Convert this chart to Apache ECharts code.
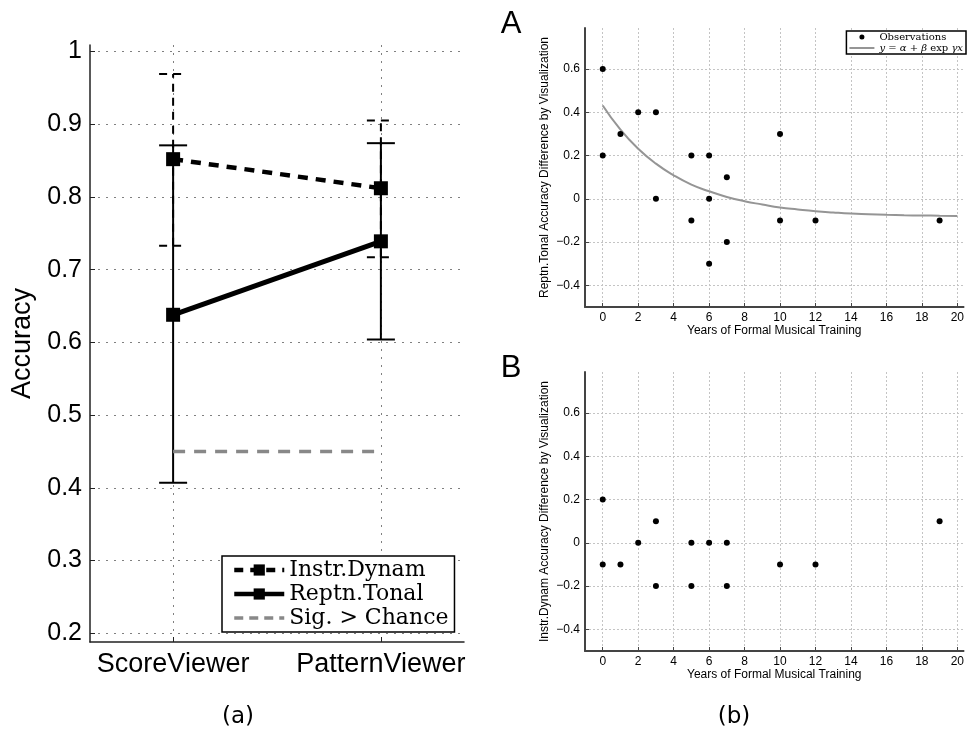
<!DOCTYPE html>
<html>
<head>
<meta charset="utf-8">
<script src="https://cdn.jsdelivr.net/npm/echarts@6/dist/echarts.min.js"></script>
<style>
html, body { margin: 0; padding: 0; background: #fff; }
#chart { width: 967px; height: 731px; }
</style>
</head>
<body>
<div id="chart"></div>
<script>
// (a) accuracy per viewer
const viewers = ['ScoreViewer', 'PatternViewer'];
const viewerX = [1, 2];
const accTicks = [0.2, 0.3, 0.4, 0.5, 0.6, 0.7, 0.8, 0.9, 1.0];
const instrMean = [0.852, 0.812];
const instrLow = [0.733, 0.717];
const instrHigh = [0.969, 0.905];
const reptnMean = [0.638, 0.739];
const reptnLow = [0.407, 0.604];
const reptnHigh = [0.871, 0.874];
const chanceLevel = [0.45, 0.45];

// (b) accuracy difference vs years of training
const yearTicks = [0, 2, 4, 6, 8, 10, 12, 14, 16, 18, 20];
const diffTicks = [-0.4, -0.2, 0, 0.2, 0.4, 0.6];
const reptnYears = [0, 0, 1, 2, 3, 3, 5, 5, 6, 6, 6, 7, 7, 10, 10, 12, 19];
const reptnDiff = [0.6, 0.2, 0.3, 0.4, 0.4, 0, 0.2, -0.1, 0.2, 0, -0.3, 0.1, -0.2, 0.3, -0.1, -0.1, -0.1];
const fitYears = [0, 1, 2, 3, 4, 5, 6, 7, 8, 9, 10, 11, 12, 13, 14, 15, 16, 17, 18, 19, 20];
const fitDiff = [0.432, 0.32, 0.232, 0.163, 0.109, 0.066, 0.035, 0.009, -0.011, -0.026, -0.04,
  -0.049, -0.057, -0.063, -0.068, -0.071, -0.074, -0.076, -0.077, -0.078, -0.079];
const instrYears = [0, 0, 1, 2, 3, 3, 5, 5, 6, 7, 7, 10, 12, 19];
const instrDiff = [0.2, -0.1, -0.1, 0, 0.1, -0.2, 0, -0.2, 0, 0, -0.2, -0.1, -0.1, 0.1];

const SANS = 'Liberation Sans';
const SERIF = 'DejaVu Serif';

const pairs = (xs, ys) => xs.map((x, i) => [x, ys[i]]);

function errorBars(low, high, dash) {
  return {
    type: 'custom',
    xAxisIndex: 0,
    yAxisIndex: 0,
    z: 2,
    silent: true,
    data: viewerX.map((x, i) => [x, low[i], high[i]]),
    renderItem: (params, api) => {
      const lo = api.coord([api.value(0), api.value(1)]);
      const hi = api.coord([api.value(0), api.value(2)]);
      const w = 14;
      const style = { stroke: '#000', lineWidth: 2, lineDash: dash };
      return {
        type: 'group',
        children: [
          { type: 'line', shape: { x1: lo[0], y1: lo[1], x2: hi[0], y2: hi[1] }, style },
          { type: 'line', shape: { x1: lo[0] - w, y1: lo[1], x2: lo[0] + w, y2: lo[1] }, style },
          { type: 'line', shape: { x1: hi[0] - w, y1: hi[1], x2: hi[0] + w, y2: hi[1] }, style }
        ]
      };
    }
  };
}

const diffLabel = v => {
  if (Math.abs(v) < 1e-9) return '0';
  return (v < 0 ? '\u2212' : '') + Math.abs(v).toFixed(1);
};

function rightAxes(gridIndex, yName) {
  const line = { show: true, onZero: false, lineStyle: { color: '#444', width: 2 } };
  const tick = { show: true, inside: true, length: 4, lineStyle: { color: '#444' } };
  const grid = { show: true, lineStyle: { color: '#c4c4c4', type: [2, 2], width: 1 } };
  return {
    x: {
      type: 'value', gridIndex, min: -1, max: 20.35,
      name: 'Years of Formal Musical Training', nameLocation: 'middle', nameGap: 17,
      nameTextStyle: { fontFamily: SANS, fontSize: 12, color: '#000' },
      axisLine: line,
      axisTick: { ...tick, customValues: yearTicks },
      axisLabel: { customValues: yearTicks, fontFamily: SANS, fontSize: 12, color: '#000', margin: 5 },
      splitLine: grid
    },
    y: {
      type: 'value', gridIndex, min: -0.5, max: 0.79,
      name: yName, nameLocation: 'middle', nameGap: 34,
      nameTextStyle: { fontFamily: SANS, fontSize: 12, color: '#000' },
      axisLine: line,
      axisTick: { ...tick, customValues: diffTicks },
      axisLabel: { customValues: diffTicks, formatter: diffLabel, fontFamily: SANS, fontSize: 12, color: '#000', margin: 5 },
      splitLine: grid
    }
  };
}

const axA = rightAxes(1, 'Reptn.Tonal Accuracy Difference by Visualization');
const axB = rightAxes(2, 'Instr.Dynam Accuracy Difference by Visualization');

const leftGrid = { show: true, lineStyle: { color: '#808080', type: [2, 6], width: 1 } };

const option = {
  animation: false,
  backgroundColor: '#fff',
  grid: [
    { left: 90, top: 45, width: 374, height: 597 },
    { left: 585, top: 28, width: 381, height: 279 },
    { left: 585, top: 372, width: 381, height: 279 }
  ],
  xAxis: [
    {
      type: 'value', gridIndex: 0, min: 0.6, max: 2.4,
      axisLine: { show: true, onZero: false, lineStyle: { color: '#222', width: 1.5 } },
      axisTick: { show: true, inside: true, length: 5, customValues: viewerX, lineStyle: { color: '#222' } },
      axisLabel: {
        customValues: viewerX,
        formatter: v => viewers[viewerX.indexOf(Math.round(v))] || '',
        fontFamily: SANS, fontSize: 27, color: '#000', margin: 9
      },
      splitLine: leftGrid
    },
    axA.x, axB.x
  ],
  yAxis: [
    {
      type: 'value', gridIndex: 0, min: 0.188, max: 1.009,
      name: 'Accuracy', nameLocation: 'middle', nameGap: 54,
      nameTextStyle: { fontFamily: SANS, fontSize: 27, color: '#000' },
      axisLine: { show: true, onZero: false, lineStyle: { color: '#222', width: 1.5 } },
      axisTick: { show: true, inside: true, length: 5, customValues: accTicks, lineStyle: { color: '#222' } },
      axisLabel: {
        customValues: accTicks,
        formatter: v => String(+v.toFixed(1)),
        fontFamily: SANS, fontSize: 25, color: '#000', margin: 8
      },
      splitLine: leftGrid
    },
    axA.y, axB.y
  ],
  legend: [
    {
      left: 222, top: 556, orient: 'vertical',
      data: [
        { name: 'Instr.Dynam', lineStyle: { width: 4.5, type: [9, 7] } },
        { name: 'Reptn.Tonal', lineStyle: { width: 4.5 } },
        { name: 'Sig. > Chance', itemStyle: { opacity: 0 }, lineStyle: { width: 3.5, type: [9, 6] } }
      ],
      backgroundColor: '#fff', borderColor: '#000', borderWidth: 1.5, borderRadius: 0,
      padding: [2, 6, 2, 10], itemWidth: 50, itemHeight: 14, itemGap: 0,
      textStyle: { fontFamily: SERIF, fontSize: 22, color: '#000', lineHeight: 24 },
      selectedMode: false
    },
    {
      right: 1, top: 31, orient: 'vertical',
      data: ['Observations', { name: 'fit', itemStyle: { opacity: 0 } }],
      backgroundColor: '#fff', borderColor: '#000', borderWidth: 1.5, borderRadius: 0,
      padding: [1, 3, 1, 2], itemWidth: 25, itemHeight: 5, itemGap: 1,
      formatter: name => name === 'fit' ? '{i|y} = {i|\u03b1} + {i|\u03b2} exp {i|\u03b3x}' : name,
      textStyle: {
        fontFamily: SERIF, fontSize: 10, color: '#000', lineHeight: 10,
        rich: { i: { fontFamily: SERIF, fontStyle: 'italic', fontSize: 10, color: '#000' } }
      },
      selectedMode: false
    }
  ],
  graphic: [
    { type: 'text', style: { x: 511, y: 24, text: 'A', align: 'center', verticalAlign: 'middle', fontFamily: SANS, fontSize: 31, fill: '#000' } },
    { type: 'text', style: { x: 511, y: 368, text: 'B', align: 'center', verticalAlign: 'middle', fontFamily: SANS, fontSize: 31, fill: '#000' } },
    { type: 'text', style: { x: 238, y: 717, text: '(a)', align: 'center', verticalAlign: 'middle', fontFamily: 'DejaVu Sans', fontSize: 23, fill: '#000' } },
    { type: 'text', style: { x: 734, y: 717, text: '(b)', align: 'center', verticalAlign: 'middle', fontFamily: 'DejaVu Sans', fontSize: 23, fill: '#000' } }
  ],
  series: [
    errorBars(instrLow, instrHigh, [8, 6]),
    errorBars(reptnLow, reptnHigh, null),
    {
      name: 'Sig. > Chance', type: 'line', xAxisIndex: 0, yAxisIndex: 0, z: 3,
      data: pairs(viewerX, chanceLevel), symbol: 'none',
      lineStyle: { color: '#888', width: 3.5, type: [12, 9] }, itemStyle: { color: '#888' }
    },
    {
      name: 'Instr.Dynam', type: 'line', xAxisIndex: 0, yAxisIndex: 0, z: 4,
      data: pairs(viewerX, instrMean), symbol: 'rect', symbolSize: 14,
      lineStyle: { color: '#000', width: 4.5, type: [10, 8] }, itemStyle: { color: '#000' }
    },
    {
      name: 'Reptn.Tonal', type: 'line', xAxisIndex: 0, yAxisIndex: 0, z: 4,
      data: pairs(viewerX, reptnMean), symbol: 'rect', symbolSize: 14,
      lineStyle: { color: '#000', width: 5 }, itemStyle: { color: '#000' }
    },
    {
      name: 'Observations', type: 'scatter', xAxisIndex: 1, yAxisIndex: 1, z: 4,
      data: pairs(reptnYears, reptnDiff), symbol: 'circle', symbolSize: 6,
      itemStyle: { color: '#000', opacity: 1 }
    },
    {
      name: 'fit', type: 'line', xAxisIndex: 1, yAxisIndex: 1, z: 3,
      data: pairs(fitYears, fitDiff), smooth: true, symbol: 'none',
      lineStyle: { color: '#959595', width: 2 }, itemStyle: { color: '#959595' }
    },
    {
      name: 'Observations B', type: 'scatter', xAxisIndex: 2, yAxisIndex: 2, z: 4,
      data: pairs(instrYears, instrDiff), symbol: 'circle', symbolSize: 6,
      itemStyle: { color: '#000', opacity: 1 }
    }
  ]
};

const chart = echarts.init(document.getElementById('chart'));
chart.setOption(option);
</script>
</body>
</html>
